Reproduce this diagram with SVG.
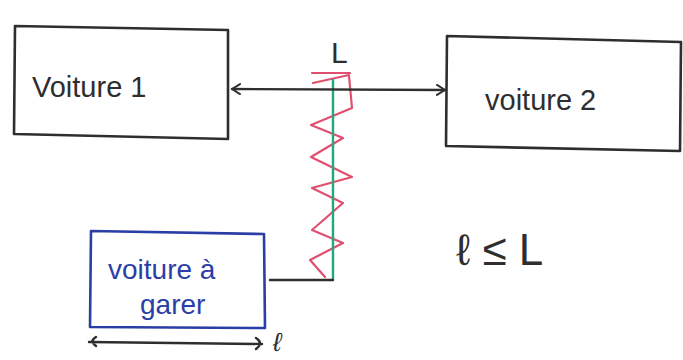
<svg xmlns="http://www.w3.org/2000/svg" width="683" height="360" viewBox="0 0 683 360">
<style>
.box{fill:none;stroke:#2e2e2e;stroke-width:2.6;stroke-linejoin:round;stroke-linecap:round}
.bbox{fill:none;stroke:#2b3ea6;stroke-width:2.6;stroke-linejoin:round;stroke-linecap:round}
.ink{fill:#2e2e2e;font-family:"Liberation Sans",Arial,sans-serif}
.bink{fill:#2b3ea6;font-family:"Liberation Sans",Arial,sans-serif}
.line{fill:none;stroke:#2e2e2e;stroke-width:2.4;stroke-linecap:round;stroke-linejoin:round}
.spring{fill:none;stroke:#e0506e;stroke-width:2.2;stroke-linecap:round;stroke-linejoin:round}
.green{fill:none;stroke:#22a87c;stroke-width:2.4;stroke-linecap:round}
</style>
<defs>
<marker id="chev" viewBox="0 0 12 12" refX="10" refY="6" markerWidth="12" markerHeight="12" markerUnits="userSpaceOnUse" orient="auto-start-reverse">
<path d="M2,1 L10,6 L2,11" fill="none" stroke="#2e2e2e" stroke-width="2" stroke-linecap="round" stroke-linejoin="round"/>
</marker>
</defs>
<rect width="683" height="360" fill="#ffffff"/>
<g id="voiture1">
<path class="box" d="M15,26 L228,30 L228,139 L14,134 Z"/>
<text class="ink" x="32" y="97" font-size="29">Voiture 1</text>
</g>
<g id="voiture2">
<path class="box" d="M447,36 L681,42 L680,151 L446,146 Z"/>
<text class="ink" x="485" y="110" font-size="29">voiture 2</text>
</g>
<g id="voiture-a-garer">
<path class="bbox" d="M91,231 L264,234 L265,328 L90,327 Z"/>
<text class="bink" x="108" y="279" font-size="28">voiture à</text>
<text class="bink" x="140" y="314" font-size="28">garer</text>
</g>
<g id="spring">
<path class="spring" d="M312,73 L350,73 M313,83 L349,75"/>
<polyline class="spring" points="349,76 352,108 311,125 343,138 311,157 352,177 312,188 343,203 312,230 343,243 310,260 325,277"/>
<line class="green" x1="333" y1="80" x2="333" y2="279"/>
<text class="ink" x="331" y="63" font-size="30">L</text>
</g>
<g id="connectors">
<line class="line" x1="232" y1="89" x2="445" y2="90" marker-start="url(#chev)" marker-end="url(#chev)"/>
<line class="line" x1="270" y1="280" x2="333" y2="280"/>
<path class="line" d="M96,337 Q89,341 96,346 M89,342 L262,344 M256,338 Q264,343 256,349"/>
</g>
<g id="dimension-label">
<text class="ink" x="273" y="351" font-size="26" font-style="italic">ℓ</text>
</g>
<g id="inequality">
<text class="ink" x="456" y="265" font-size="44">ℓ ≤ L</text>
</g>
</svg>
